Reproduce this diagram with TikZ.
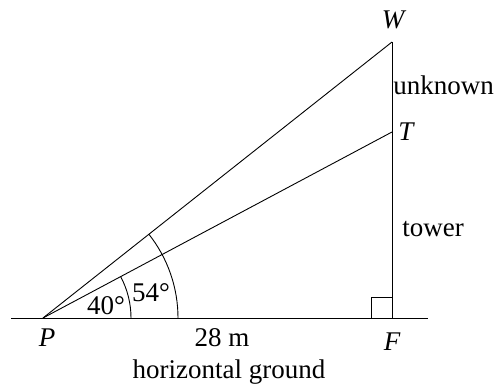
\documentclass[tikz,border=0pt]{standalone}
\usepackage{fontspec}
\setmainfont{Liberation Serif}
\begin{document}
\begin{tikzpicture}[x=1pt,y=1pt,line width=0.9pt,
  lbl/.style={inner sep=0pt,font=\fontsize{27}{31}\selectfont},
  ilbl/.style={lbl,font=\fontsize{27}{31}\selectfont\itshape}]
\useasboundingbox (0,0) rectangle (496,385);
\coordinate (P) at (43,67);
\coordinate (F) at (392,67);
\coordinate (T) at (392,253);
\coordinate (W) at (392,343);
\coordinate (G1) at (11,67);
\coordinate (G2) at (428,67);
% ground
\draw (G1) -- (G2);
% tower
\draw (F) -- (W);
% sight lines
\draw (P) -- (T);
\draw (P) -- (W);
% right angle
\draw ([xshift=-21pt]F) -- ([xshift=-21pt,yshift=21pt]F) -- ([yshift=21pt]F);
% angle arcs
\draw ([xshift=88pt]P) arc[start angle=0,end angle={atan(186/349)},radius=88pt];
\draw ([xshift=135pt]P) arc[start angle=0,end angle={atan(276/349)},radius=135pt];
% labels
\node[ilbl] (Wl) at (393,365) {W};
\node[ilbl,anchor=west] (Tl) at (398,253) {T};
\node[ilbl] (Pl) at (47,47) {P};
\node[ilbl] (Fl) at (392,43) {F};
\node[lbl,anchor=west] (unk) at (393,300) {unknown};
\node[lbl,anchor=west] (tow) at (402,156) {tower};
\node[lbl] (dist) at (222,47) {28 m};
\node[lbl] (hg) at (229,13) {horizontal ground};
\node[lbl] (a40) at (106,79) {40°};
\node[lbl] (a54) at (151,92) {54°};
\end{tikzpicture}
\end{document}
